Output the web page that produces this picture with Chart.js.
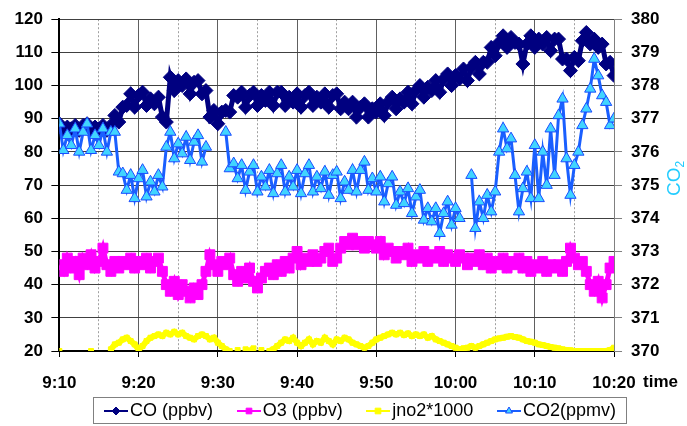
<!DOCTYPE html>
<html>
<head>
<meta charset="utf-8">
<script src="https://cdn.jsdelivr.net/npm/chart.js@4/dist/chart.umd.min.js"></script>
<style>
  html, body { margin: 0; padding: 0; background: #fff; }
  #wrap { position: relative; width: 687px; height: 426px; overflow: hidden; }
  #legend {
    position: absolute; left: 93px; top: 397px; width: 512px; height: 25px;
    padding: 0 10px; border: 1px solid #808080; display: flex; align-items: center;
    justify-content: space-between; font: 18px "Liberation Sans", Arial, sans-serif; color: #000;
  }
  .item { display: flex; align-items: center; gap: 2px; white-space: nowrap; }
  .item canvas { display: block; }
</style>
</head>
<body>
<div id="wrap">
  <canvas id="c" width="687" height="426"></canvas>
  <div id="legend"></div>
</div>
<script>
// x-axis labels, one every 10 minutes from 9:10
const timeLabels = ['9:10', '9:20', '9:30', '9:40', '9:50', '10:00', '10:10', '10:20'];
const seriesNames = ['CO (ppbv)', 'O3 (ppbv)', 'jno2*1000', 'CO2(ppmv)'];

// readings every 30 s from 9:10 to 10:20
const coPpbv = [
  88.5, 86.5, 87.5, 87, 88, 86.5, 88, 88.5, 86.5, 87.5, 87, 88, 86.5, 88,
  91, 89, 93.5, 94, 97.5, 93.5, 97, 98, 94, 96, 94.5, 96.5, 90.5, 89,
  102.5, 98.5, 101.5, 100, 102, 97.5, 101, 101.5, 97.5, 98.5, 90.5, 92.5, 88.5, 92,
  92.5, 92, 97, 96.5, 98, 93.5, 97, 98, 94, 97, 95.5, 98, 94, 98,
  98, 94, 96.5, 95, 97.5, 93.5, 97, 98, 94, 96.5, 95, 97.5, 93.5, 97,
  97.5, 93, 95, 93, 95, 90.5, 93.5, 94.5, 90.5, 93, 92, 94.5, 91, 95,
  96.5, 93, 96, 95, 98, 94.5, 98.5, 100, 96.5, 99.5, 98.5, 101.5, 98, 102,
  103.5, 100, 103, 102, 105, 101.5, 105.5, 107, 103.5, 107, 107, 111.5, 109, 113,
  115, 111.5, 114.5, 113, 112.5, 106.5, 112.5, 115, 111.5, 114, 112.5, 114.5, 110.5, 114,
  114, 108, 108, 104.5, 108.5, 107.5, 113.5, 116, 112.5, 114, 111.5, 112.5, 106.5, 107,
  103
];

const o3Ppbv = [
  46, 44, 48, 45, 47, 43, 48, 46, 49, 45, 47, 51, 46, 44,
  47, 45, 47, 46, 48, 45, 47, 46, 48, 45, 47, 48, 44, 40,
  38, 41, 37, 40, 38, 36, 39, 37, 40, 44, 49, 46, 44, 47,
  46, 48, 43, 41, 44, 42, 45, 41, 39, 42, 44, 45, 43, 46,
  44, 47, 45, 48, 50, 46, 48, 47, 49, 47, 48, 50, 51, 47,
  48, 51, 53, 52, 54, 52, 53, 51, 53, 52, 51, 53, 49, 51,
  50, 48, 50, 49, 51, 47, 49, 48, 50, 47, 49, 48, 50, 47,
  49, 48, 47, 49, 48, 46, 48, 47, 49, 46, 48, 45, 47, 46,
  48, 45, 47, 46, 48, 45, 47, 44, 46, 45, 47, 44, 46, 45,
  46, 44, 47, 51, 48, 46, 47, 44, 40, 38, 41, 36, 40, 45,
  47
];

const jno2x1000 = [
  20, null, null, null, null, null, null, null, 20, null, null, null, null, 20.5,
  22, 22.5, 23.5, 24, 23, 22, 20.5, 21.5, 23, 24, 24.5, 25, 24.5, 25.5,
  25, 25.8, 25, 25.5, 24.5, 24, 23.5, 24.5, 25, 24.5, 23.5, 24, 22.5, 21.5,
  20.5, 20, null, 20.3, null, 20.5, 20, 20.8, null, 20.3, null, 20, 20.5, 21.5,
  22.5, 23.5, 23, 24, 22.5, 21.5, 22.5, 23.5, 22, 23, 22.5, 24, 23, 22,
  23.5, 23, 24, 23.5, 22.5, 22, 21.5, 21, 21.5, 22.5, 23.5, 24, 24.5, 25,
  25.5, 25, 25.5, 24.8, 25.3, 24.5, 25, 24.5, 25, 24, 24.5, 23.5, 23, 22.5,
  22, 21.5, 21, 20.5, 20.8, 21, 21.5, 21, 21.5, 22, 22.5, 23, 23.5, 23.8,
  24, 24.3, 24.5, 24.2, 24, 23.5, 23, 22.8, 22.5, 22, 21.8, 21.5, 21.2, 21,
  20.8, 20.5, 20.3, 20.2, 20, 20, 20, 20, 20, 20, 20, 20, 20, 20.3,
  21
];

const co2Ppmv = [
  376.85, 376.05, 376.5, 376.2, 376.7, 376.0, 376.6, 376.85, 376.05, 376.5, 376.2, 376.7, 376.0, 376.6,
  376.6, 375.4, 375.35, 374.85, 375.3, 374.6, 375.2, 375.45, 374.65, 375.1, 374.8, 375.3, 374.95, 376.15,
  376.6, 375.8, 376.25, 375.95, 376.45, 375.75, 376.3, 376.5, 375.7, 376.15, null, null, null, null,
  376.6, 375.5, 375.65, 375.2, 375.6, 374.85, 375.4, 375.6, 374.8, 375.25, 374.95, 375.45, 374.75, 375.35,
  375.6, 374.8, 375.25, 374.95, 375.45, 374.75, 375.35, 375.6, 374.8, 375.25, 374.9, 375.4, 374.7, 375.3,
  375.4, 374.6, 375.1, 374.85, 375.45, 374.8, 375.45, 375.7, 374.85, 375.2, 374.8, 375.25, 374.5, 375.05,
  375.25, 374.4, 374.8, 374.45, 374.9, 374.15, 374.65, 374.85, 373.95, 374.3, 373.9, 374.3, 373.55, 374.15,
  374.5, 373.8, 374.3, 374.0, null, null, 375.3, 373.7, 374.5, 374.0, 374.7, 374.2, 374.8, 376.0,
  376.7, 376.1, 376.4, 375.3, 374.2, 374.9, 375.4, 374.6, 376.2, 374.6, 376.0, 375.0, 376.7, 375.3,
  377.1, 377.6, 375.8, 374.7, 375.6, 376.0, 376.8, 377.3, 377.9, 378.8, 378.3, 377.7, 377.5, 376.8,
  377.0
];

// sample times in minutes after 9:10 (30 s spacing)
const minutes = coPpbv.map((_, i) => i / 2);

const FONT = '"Liberation Sans", Arial, sans-serif';
Chart.defaults.font.family = FONT;

const styles = [
  { line: '#000080', lineWidth: 5, shape: 'rectRot', r: 7, fill: '#000080', stroke: '#000080' },
  { line: '#FF00FF', lineWidth: 5, shape: 'rect', r: 7, fill: '#FF00FF', stroke: '#FF00FF' },
  { line: '#FFFF00', lineWidth: 6, shape: 'rect', r: 3.5, fill: '#FFFF00', stroke: '#FFFF00' },
  { line: '#1a5fff', lineWidth: 3, shape: 'triangle', r: 6.5, fill: '#40d4ff', stroke: '#1a4cff' }
];
const seriesData = [coPpbv, o3Ppbv, jno2x1000, co2Ppmv];
const axisIds = ['y', 'y', 'y', 'y1'];
const drawOrder = [1, 2, 3, 0];

const datasets = seriesNames.map((name, i) => ({
  label: name,
  data: seriesData[i],
  yAxisID: axisIds[i],
  order: drawOrder[i],
  borderColor: styles[i].line,
  borderWidth: styles[i].lineWidth,
  pointStyle: styles[i].shape,
  pointRadius: styles[i].r,
  pointBackgroundColor: styles[i].fill,
  pointBorderColor: styles[i].stroke,
  pointBorderWidth: 1,
  tension: 0
}));

// extra axis captions: "time" after the last x label, rotated CO2 title on the right
const axisCaptions = {
  id: 'axisCaptions',
  afterDraw(chart) {
    const ctx = chart.ctx;
    const xs = chart.scales.x;
    const y1 = chart.scales.y1;
    const labelY = xs.top + 6 + 16.5 + 8.5;
    ctx.save();
    ctx.fillStyle = '#000';
    ctx.font = 'bold 17px ' + FONT;
    ctx.textAlign = 'left';
    ctx.textBaseline = 'middle';
    ctx.fillText('time', xs.right + 29, labelY);

    ctx.translate(y1.right + 6, y1.getPixelForValue(375.2));
    ctx.rotate(-Math.PI / 2);
    ctx.fillStyle = '#22CCFF';
    ctx.font = '19px ' + FONT;
    const w1 = ctx.measureText('CO').width;
    ctx.font = '12px ' + FONT;
    const w2 = ctx.measureText('2').width;
    const start = -(w1 + w2) / 2;
    ctx.font = '19px ' + FONT;
    ctx.fillText('CO', start, 0);
    ctx.font = '12px ' + FONT;
    ctx.fillText('2', start + w1, 6);
    ctx.restore();
  }
};

const tickFont = { size: 17, weight: 'bold' };

const chart = new Chart(document.getElementById('c'), {
  type: 'line',
  data: { labels: minutes, datasets },
  options: {
    responsive: false,
    animation: false,
    devicePixelRatio: 1,
    layout: { padding: { left: 6, right: 18.6, top: 9, bottom: 15.6 } },
    plugins: { legend: { display: false }, tooltip: { enabled: false } },
    scales: {
      x: {
        type: 'linear', min: 0, max: 70,
        ticks: {
          stepSize: 5, autoSkip: false, maxRotation: 0, padding: 16.5, color: '#000', font: tickFont,
          callback: v => (v % 10 === 0 ? timeLabels[v / 10] : '')
        },
        grid: {
          color: c => (c.tick && c.tick.value % 10 !== 0 ? '#a0a0a0' : '#606060'),
          tickColor: c => (c.tick && c.tick.value % 10 !== 0 ? 'rgba(0,0,0,0)' : '#000'),
          tickLength: 6, lineWidth: 1
        },
        border: {
          color: '#000', width: 2,
          dash: c => (c.tick && c.tick.value % 10 !== 0 ? [2, 2] : [])
        }
      },
      y: {
        position: 'left', min: 20, max: 120,
        ticks: { stepSize: 10, padding: 8.5, color: '#000', font: tickFont },
        grid: { color: '#404040', tickColor: '#000', tickLength: 8, lineWidth: 1 },
        border: { color: '#000', width: 2 }
      },
      y1: {
        position: 'right', min: 370, max: 380,
        ticks: { stepSize: 1, padding: 9, color: '#000', font: tickFont },
        grid: { drawOnChartArea: false, tickColor: '#808080', tickLength: 8 },
        border: { color: '#808080', width: 1 }
      }
    }
  },
  plugins: [axisCaptions]
});

// legend below the plot, built from the chart's datasets
const legendBox = document.getElementById('legend');
chart.data.datasets.forEach(ds => {
  const item = document.createElement('div');
  item.className = 'item';
  const sym = document.createElement('canvas');
  sym.width = 24; sym.height = 14;
  const g = sym.getContext('2d');
  g.strokeStyle = ds.borderColor;
  g.lineWidth = 2;
  g.beginPath(); g.moveTo(0, 7); g.lineTo(24, 7); g.stroke();
  g.fillStyle = ds.pointBackgroundColor;
  g.strokeStyle = ds.pointBorderColor;
  g.lineWidth = 1;
  Chart.helpers.drawPoint(g, { pointStyle: ds.pointStyle, radius: 4, borderWidth: 1, rotation: 0 }, 12, 7);
  const label = document.createElement('span');
  label.textContent = ds.label;
  item.appendChild(sym);
  item.appendChild(label);
  legendBox.appendChild(item);
});
</script>
</body>
</html>
